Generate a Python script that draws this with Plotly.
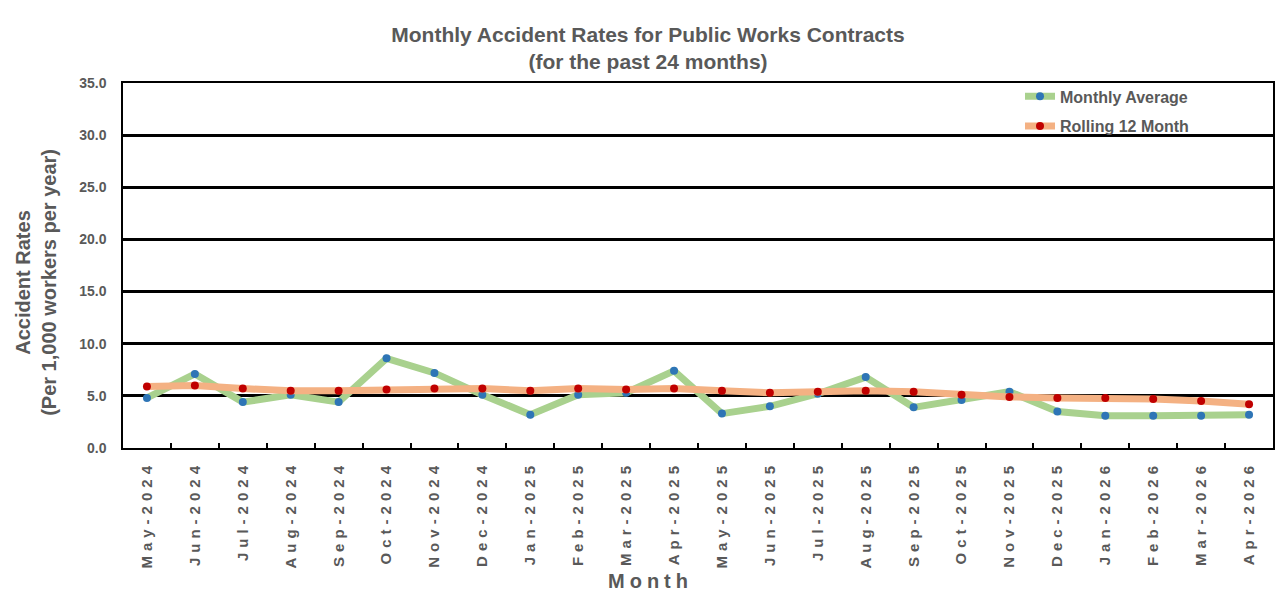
import plotly.graph_objects as go

# ── data ──────────────────────────────────────────────────────────────────────
months = ['May-2024', 'Jun-2024', 'Jul-2024', 'Aug-2024', 'Sep-2024', 'Oct-2024',
          'Nov-2024', 'Dec-2024', 'Jan-2025', 'Feb-2025', 'Mar-2025', 'Apr-2025',
          'May-2025', 'Jun-2025', 'Jul-2025', 'Aug-2025', 'Sep-2025', 'Oct-2025',
          'Nov-2025', 'Dec-2025', 'Jan-2026', 'Feb-2026', 'Mar-2026', 'Apr-2026']

monthly_avg = [4.8, 7.1, 4.4, 5.1, 4.4, 8.6, 7.2, 5.1, 3.2, 5.1, 5.3, 7.4,
               3.3, 4.0, 5.2, 6.8, 3.9, 4.6, 5.4, 3.5, 3.1, 3.1, 3.1, 3.2]

rolling_12 = [5.9, 6.0, 5.7, 5.5, 5.5, 5.6, 5.7, 5.7, 5.5, 5.7, 5.6, 5.7,
              5.5, 5.3, 5.4, 5.5, 5.4, 5.1, 4.9, 4.8, 4.8, 4.7, 4.5, 4.2]

y_ticks = [0, 5, 10, 15, 20, 25, 30, 35]

# ── colours ───────────────────────────────────────────────────────────────────
C_TEXT = '#595959'
C_GREEN_LINE = '#A9D18E'
C_BLUE_DOT = '#2E75B6'
C_PEACH_LINE = '#F4B183'
C_RED_DOT = '#C00000'

FONT = 'Liberation Sans, Arial, sans-serif'

# Excel-style letter spacing on the month labels
SP = '\u2004'
month_ticktext = [SP.join(m) for m in months]

fig = go.Figure()
fig.add_trace(go.Scatter(
    x=months, y=monthly_avg, name='Monthly Average', legendgroup='a',
    mode='lines+markers',
    line=dict(color=C_GREEN_LINE, width=7),
    marker=dict(color=C_BLUE_DOT, size=8),
))
fig.add_trace(go.Scatter(
    x=months, y=rolling_12, name='Rolling 12 Month', legendgroup='b',
    mode='lines+markers',
    line=dict(color=C_PEACH_LINE, width=7),
    marker=dict(color=C_RED_DOT, size=8),
))

# page body has an 8px margin, so the figure is sized/placed to compensate
fig.update_layout(
    width=1280, height=603,
    font=dict(family=FONT, color=C_TEXT),
    plot_bgcolor='white', paper_bgcolor='white',
    margin=dict(l=115, r=15, t=75, b=163),
    title=dict(
        text='<b>Monthly Accident Rates for Public Works Contracts<br>(for the past 24 months)</b>',
        font=dict(size=21, color=C_TEXT),
        x=0.5, xanchor='center', y=0.944, yanchor='middle',
    ),
    xaxis=dict(
        type='category', range=[-0.5, 23.5],
        tickvals=months, ticktext=month_ticktext,
        tickangle=-90, tickfont=dict(size=15, weight='bold'), ticklabelstandoff=10,
        tickson='boundaries', ticks='inside', ticklen=5, tickcolor='black', tickwidth=2,
        showline=True, linecolor='black', linewidth=2, mirror=True,
        showgrid=False, automargin=False,
    ),
    yaxis=dict(
        range=[0, 35], tickvals=y_ticks, tickformat='.1f',
        tickfont=dict(size=14, weight='bold'), ticklabelstandoff=12,
        showgrid=True, gridcolor='black', gridwidth=3,
        showline=True, linecolor='black', linewidth=1.5, mirror=True,
        zeroline=False, ticks='', ticklen=0, automargin=False,
    ),
    legend=dict(
        x=0.78, y=1.01, xanchor='left', yanchor='top',
        bgcolor='rgba(0,0,0,0)', font=dict(size=16, weight='bold', color=C_TEXT),
        traceorder='grouped', tracegroupgap=6, itemwidth=30,
    ),
    annotations=[
        dict(text='<b>Accident Rates<br>(Per 1,000 workers per year)</b>',
             textangle=-90, font=dict(size=20, color=C_TEXT),
             xref='paper', yref='paper', x=-0.0757, y=0.455,
             xanchor='center', yanchor='middle', showarrow=False),
        dict(text='<b>' + '\u2005'.join('Month') + '</b>',
             font=dict(size=20, color=C_TEXT),
             xref='paper', yref='paper', x=0.4565, y=-0.364,
             xanchor='center', yanchor='middle', showarrow=False),
    ],
)

fig.write_html('out.html')
